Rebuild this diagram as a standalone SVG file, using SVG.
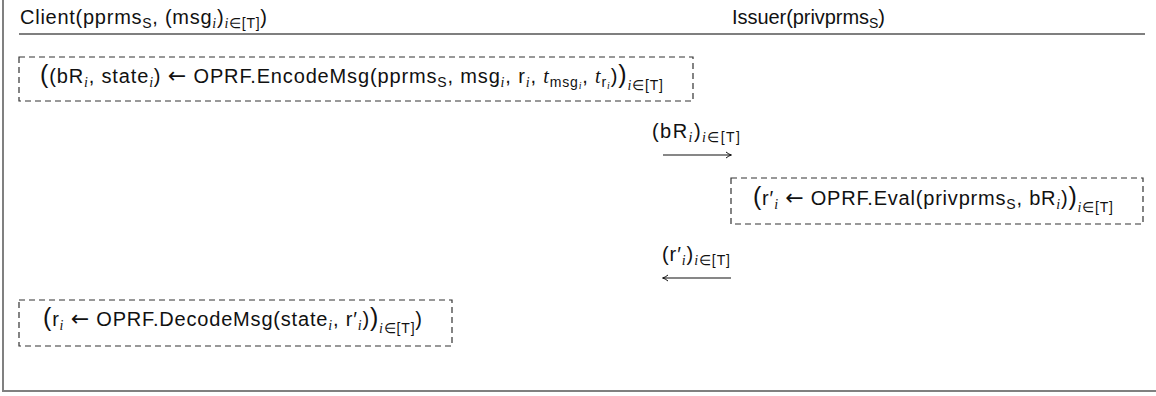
<svg xmlns="http://www.w3.org/2000/svg" width="1156" height="396" viewBox="0 0 1156 396">
<style>
.t{font-family:"Liberation Sans",Arial,sans-serif;font-size:20px;fill:#111}
.sb{font-size:14px}
.ss{font-size:10px}
.mi{font-family:"Liberation Serif","Times New Roman",serif;font-style:italic}
.big{font-size:25px}
.ar{font-family:"DejaVu Sans",sans-serif;font-size:22px}
.box{fill:none;stroke:#333;stroke-width:1.2;stroke-dasharray:6,4}
.frame{stroke:#808080;stroke-width:2;fill:none}
.hl{stroke:#555;stroke-width:1.3}
.arr{stroke:#111;stroke-width:1.1;fill:none}
</style>
<defs>
<marker id="ah" markerWidth="8" markerHeight="8" refX="6" refY="4" orient="auto" markerUnits="userSpaceOnUse">
<path d="M1,1 Q4,3.5 6.5,4 Q4,4.5 1,7" fill="none" stroke="#111" stroke-width="1"/>
</marker>
</defs>
<g id="frame">
<line class="frame" x1="3" y1="0" x2="3" y2="392"/>
<line class="frame" x1="2" y1="391" x2="1156" y2="391"/>
<line class="hl" x1="19" y1="34" x2="1145" y2="34"/>
</g>
<g id="client-header">
<text class="t" x="20" y="24" textLength="247" lengthAdjust="spacing">Client(pprms<tspan class="sb" dy="4">S</tspan><tspan dy="-4">, (msg</tspan><tspan class="sb mi" dy="4">i</tspan><tspan dy="-4">)</tspan><tspan class="sb" dy="4"><tspan class="mi">i</tspan>∈[T]</tspan><tspan dy="-4">)</tspan></text>
</g>
<g id="issuer-header">
<text class="t" x="732" y="24" textLength="153" lengthAdjust="spacing">Issuer(privprms<tspan class="sb" dy="4">S</tspan><tspan dy="-4">)</tspan></text>
</g>
<g id="encode">
<rect class="box" x="19" y="57" width="674" height="44"/>
<text class="t" x="40" y="83" textLength="623" lengthAdjust="spacing"><tspan class="big">(</tspan>(bR<tspan class="sb mi" dy="4">i</tspan><tspan dy="-4">, state</tspan><tspan class="sb mi" dy="4">i</tspan><tspan dy="-4">) </tspan><tspan class="ar">←</tspan> OPRF.EncodeMsg(pprms<tspan class="sb" dy="4">S</tspan><tspan dy="-4">, msg</tspan><tspan class="sb mi" dy="4">i</tspan><tspan dy="-4">, r</tspan><tspan class="sb mi" dy="4">i</tspan><tspan dy="-4">, </tspan><tspan class="mi">t</tspan><tspan class="sb" dy="4">msg</tspan><tspan class="ss mi" dy="2">i</tspan><tspan dy="-6">, </tspan><tspan class="mi">t</tspan><tspan class="sb" dy="4">r</tspan><tspan class="ss mi" dy="2">i</tspan><tspan dy="-6">)</tspan><tspan class="big">)</tspan><tspan class="sb" dy="7"><tspan class="mi">i</tspan>∈[T]</tspan></text>
</g>
<g id="eval">
<rect class="box" x="731" y="178" width="412" height="46"/>
<text class="t" x="753" y="205" textLength="360" lengthAdjust="spacing"><tspan class="big">(</tspan>r′<tspan class="sb mi" dy="4">i</tspan><tspan dy="-4"> </tspan><tspan class="ar">←</tspan> OPRF.Eval(privprms<tspan class="sb" dy="4">S</tspan><tspan dy="-4">, bR</tspan><tspan class="sb mi" dy="4">i</tspan><tspan dy="-4">)</tspan><tspan class="big">)</tspan><tspan class="sb" dy="7"><tspan class="mi">i</tspan>∈[T]</tspan></text>
</g>
<g id="decode">
<rect class="box" x="19" y="300" width="433" height="46"/>
<text class="t" x="43" y="326" textLength="379" lengthAdjust="spacing"><tspan class="big">(</tspan>r<tspan class="sb mi" dy="4">i</tspan><tspan dy="-4"> </tspan><tspan class="ar">←</tspan> OPRF.DecodeMsg(state<tspan class="sb mi" dy="4">i</tspan><tspan dy="-4">, r′</tspan><tspan class="sb mi" dy="4">i</tspan><tspan dy="-4">)</tspan><tspan class="big">)</tspan><tspan class="sb" dy="7"><tspan class="mi">i</tspan>∈[T]</tspan><tspan dy="-7">)</tspan></text>
</g>
<g id="connectors">
<line class="arr" x1="663" y1="155" x2="731" y2="155" marker-end="url(#ah)"/>
<text class="t" x="652" y="138" textLength="88" lengthAdjust="spacing">(bR<tspan class="sb mi" dy="4">i</tspan><tspan dy="-4">)</tspan><tspan class="sb" dy="4"><tspan class="mi">i</tspan>∈[T]</tspan></text>
<line class="arr" x1="731" y1="278" x2="663" y2="278" marker-end="url(#ah)"/>
<text class="t" x="662" y="261" textLength="68" lengthAdjust="spacing">(r′<tspan class="sb mi" dy="4">i</tspan><tspan dy="-4">)</tspan><tspan class="sb" dy="4"><tspan class="mi">i</tspan>∈[T]</tspan></text>
</g>
</svg>
